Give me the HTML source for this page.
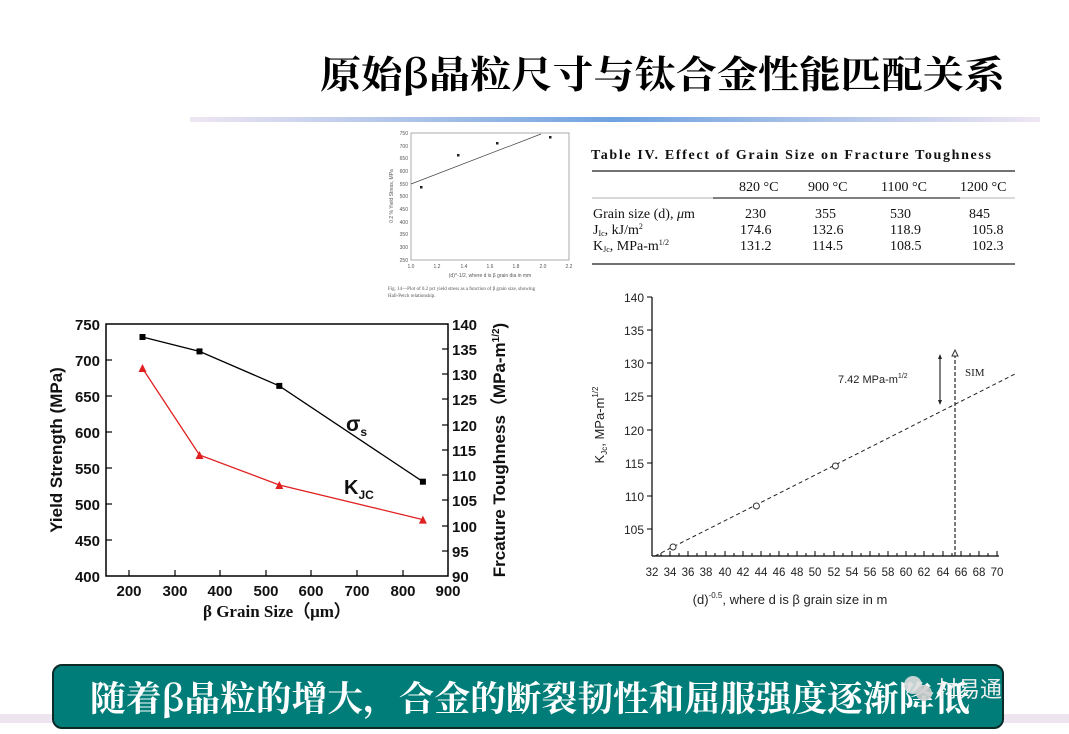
<!DOCTYPE html>
<html><head><meta charset="utf-8"><style>
body{margin:0;background:#fff;width:1069px;height:734px;overflow:hidden;position:relative;font-family:"Liberation Sans",sans-serif}
</style></head><body>
<svg width="1069" height="734" viewBox="0 0 1069 734" style="position:absolute;left:0;top:0">
<defs>
<linearGradient id="g1" x1="0" x2="1"><stop offset="0" stop-color="#efe6f2"/><stop offset="0.5" stop-color="#6fa2e0"/><stop offset="1" stop-color="#efe6f2"/></linearGradient>
</defs>
<text x="320" y="88" font-family="'Noto Serif CJK SC',serif" font-size="38" font-weight="bold" textLength="685" lengthAdjust="spacingAndGlyphs" fill="#000">原始β晶粒尺寸与钛合金性能匹配关系</text>
<rect x="190" y="117" width="850" height="5" fill="url(#g1)"/>

<!-- small figure -->
<g font-size="5" fill="#555" stroke="none">
<rect x="411" y="133" width="158" height="127" fill="none" stroke="#888" stroke-width="0.7"/>
<text x="408" y="135" text-anchor="end">750</text><text x="408" y="148" text-anchor="end">700</text><text x="408" y="160" text-anchor="end">650</text><text x="408" y="173" text-anchor="end">600</text><text x="408" y="186" text-anchor="end">550</text><text x="408" y="198" text-anchor="end">500</text><text x="408" y="211" text-anchor="end">450</text><text x="408" y="224" text-anchor="end">400</text><text x="408" y="236" text-anchor="end">350</text><text x="408" y="249" text-anchor="end">300</text><text x="408" y="262" text-anchor="end">250</text>
<text x="411" y="268" text-anchor="middle">1.0</text><text x="437" y="268" text-anchor="middle">1.2</text><text x="464" y="268" text-anchor="middle">1.4</text><text x="490" y="268" text-anchor="middle">1.6</text><text x="516" y="268" text-anchor="middle">1.8</text><text x="543" y="268" text-anchor="middle">2.0</text><text x="569" y="268" text-anchor="middle">2.2</text>
<text x="490" y="277" text-anchor="middle">(d)^-1/2, where d is β grain dia in mm</text>
<text x="388" y="290" font-family="'Liberation Serif',serif">Fig. 14—Plot of 0.2 pct yield stress as a function of β grain size, showing</text>
<text x="388" y="297" font-family="'Liberation Serif',serif">Hall-Petch relationship.</text>
<text transform="translate(393,196) rotate(-90)" text-anchor="middle">0.2 % Yield Stress, MPa</text>
<line x1="411" y1="184" x2="541" y2="134" stroke="#444" stroke-width="0.7"/>
<rect x="420" y="186" width="2.5" height="2.5" fill="#222"/><rect x="457" y="154" width="2.5" height="2.5" fill="#222"/><rect x="496" y="142" width="2.5" height="2.5" fill="#222"/><rect x="549" y="136" width="2.5" height="2.5" fill="#222"/>
</g>

<!-- table -->
<g font-family="'Liberation Serif',serif" fill="#111">
<text x="591" y="159" font-size="14" font-weight="bold" textLength="400" lengthAdjust="spacing">Table IV.   Effect of Grain Size on Fracture Toughness</text>
<line x1="592" y1="171" x2="1015" y2="171" stroke="#444" stroke-width="1.5"/>
<text x="739" y="191" font-size="14">820 °C</text><text x="808" y="191" font-size="14">900 °C</text><text x="881" y="191" font-size="14">1100 °C</text><text x="960" y="191" font-size="14">1200 °C</text>
<line x1="713" y1="198" x2="960" y2="198" stroke="#111" stroke-width="1.2"/>
<line x1="592" y1="198" x2="1015" y2="198" stroke="#666" stroke-width="0.5"/>
<text x="593" y="218" font-size="14">Grain size (d), <tspan font-style="italic">μ</tspan>m</text>
<text x="593" y="234" font-size="14">J<tspan font-size="8" dy="2">Ic</tspan><tspan dy="-2">, kJ/m</tspan><tspan font-size="8" dy="-5">2</tspan></text>
<text x="593" y="250" font-size="14">K<tspan font-size="8" dy="2">Jc</tspan><tspan dy="-2">, MPa-m</tspan><tspan font-size="8" dy="-5">1/2</tspan></text>
<g font-size="14"><text x="745" y="218">230</text><text x="815" y="218">355</text><text x="890" y="218">530</text><text x="969" y="218">845</text>
<text x="740" y="234">174.6</text><text x="812" y="234">132.6</text><text x="890" y="234">118.9</text><text x="972" y="234">105.8</text>
<text x="740" y="250">131.2</text><text x="812" y="250">114.5</text><text x="890" y="250">108.5</text><text x="972" y="250">102.3</text></g>
<line x1="592" y1="264" x2="1015" y2="264" stroke="#444" stroke-width="1.5"/>
</g>

<!-- left chart -->
<g font-weight="bold" font-size="15" fill="#111">
<rect x="106" y="324" width="342" height="252" fill="none" stroke="#000" stroke-width="1.5"/>
<g stroke="#000" stroke-width="1.2">
<line x1="129" y1="576" x2="129" y2="570"/><line x1="175" y1="576" x2="175" y2="570"/><line x1="220" y1="576" x2="220" y2="570"/><line x1="266" y1="576" x2="266" y2="570"/><line x1="311" y1="576" x2="311" y2="570"/><line x1="357" y1="576" x2="357" y2="570"/><line x1="403" y1="576" x2="403" y2="570"/>
<line x1="106" y1="360" x2="112" y2="360"/><line x1="106" y1="396" x2="112" y2="396"/><line x1="106" y1="432" x2="112" y2="432"/><line x1="106" y1="468" x2="112" y2="468"/><line x1="106" y1="504" x2="112" y2="504"/><line x1="106" y1="540" x2="112" y2="540"/>
<line x1="448" y1="349" x2="442" y2="349"/><line x1="448" y1="374" x2="442" y2="374"/><line x1="448" y1="399" x2="442" y2="399"/><line x1="448" y1="425" x2="442" y2="425"/><line x1="448" y1="450" x2="442" y2="450"/><line x1="448" y1="475" x2="442" y2="475"/><line x1="448" y1="500" x2="442" y2="500"/><line x1="448" y1="526" x2="442" y2="526"/><line x1="448" y1="551" x2="442" y2="551"/>
</g>
<g text-anchor="end"><text x="100" y="330">750</text><text x="100" y="366">700</text><text x="100" y="402">650</text><text x="100" y="438">600</text><text x="100" y="474">550</text><text x="100" y="510">500</text><text x="100" y="546">450</text><text x="100" y="582">400</text></g>
<g><text x="452" y="330">140</text><text x="452" y="355">135</text><text x="452" y="380">130</text><text x="452" y="405">125</text><text x="452" y="431">120</text><text x="452" y="456">115</text><text x="452" y="481">110</text><text x="452" y="506">105</text><text x="452" y="532">100</text><text x="452" y="557">95</text><text x="452" y="582">90</text></g>
<g text-anchor="middle"><text x="129" y="596">200</text><text x="175" y="596">300</text><text x="220" y="596">400</text><text x="266" y="596">500</text><text x="311" y="596">600</text><text x="357" y="596">700</text><text x="403" y="596">800</text><text x="448" y="596">900</text></g>
<text x="277" y="617" text-anchor="middle" font-family="'Liberation Serif',serif" font-size="17">β Grain Size（μm）</text>
<text transform="translate(62,450) rotate(-90)" text-anchor="middle" font-size="17">Yield Strength (MPa)</text>
<text transform="translate(505,450) rotate(-90)" text-anchor="middle" font-size="17">Frcature Toughness（MPa-m<tspan font-size="10" dy="-6">1/2</tspan><tspan dy="6">)</tspan></text>
<polyline points="142.5,337 199.5,351.4 279.3,385.9 422.9,481.7" fill="none" stroke="#000" stroke-width="1.3"/>
<rect x="139.5" y="334" width="6" height="6" fill="#000"/><rect x="196.5" y="348.4" width="6" height="6" fill="#000"/><rect x="276.3" y="382.9" width="6" height="6" fill="#000"/><rect x="419.9" y="478.7" width="6" height="6" fill="#000"/>
<polyline points="142.5,368.4 199.5,455 279.3,485 422.9,519.6" fill="none" stroke="#e02020" stroke-width="1.3"/>
<g fill="#e02020"><polygon points="142.5,364 146.5,372 138.5,372"/><polygon points="199.5,451 203.5,459 195.5,459"/><polygon points="279.3,481 283.3,489 275.3,489"/><polygon points="422.9,515.6 426.9,523.6 418.9,523.6"/></g>
<text x="346" y="431" font-size="21">σ<tspan font-size="12" dy="5">s</tspan></text>
<text x="344" y="494" font-size="20">K<tspan font-size="12" dy="5">JC</tspan></text>
</g>

<!-- right chart -->
<g font-size="12" fill="#222">
<line x1="652" y1="297" x2="652" y2="556" stroke="#000" stroke-width="1.2"/>
<line x1="652" y1="556" x2="999" y2="556" stroke="#000" stroke-width="1.2"/>
<g stroke="#000" stroke-width="1">
<line x1="652" y1="297" x2="647" y2="297"/><line x1="652" y1="330" x2="647" y2="330"/><line x1="652" y1="363" x2="647" y2="363"/><line x1="652" y1="396" x2="647" y2="396"/><line x1="652" y1="430" x2="647" y2="430"/><line x1="652" y1="463" x2="647" y2="463"/><line x1="652" y1="496" x2="647" y2="496"/><line x1="652" y1="529" x2="647" y2="529"/>
</g>
<g text-anchor="end"><text x="644" y="302">140</text><text x="644" y="335">135</text><text x="644" y="368">130</text><text x="644" y="401">125</text><text x="644" y="435">120</text><text x="644" y="468">115</text><text x="644" y="501">110</text><text x="644" y="534">105</text></g>
<g text-anchor="middle" font-size="11.5"><text x="652" y="576">32</text><text x="670" y="576">34</text><text x="688" y="576">36</text><text x="706" y="576">38</text><text x="725" y="576">40</text><text x="743" y="576">42</text><text x="761" y="576">44</text><text x="779" y="576">46</text><text x="797" y="576">48</text><text x="815" y="576">50</text><text x="834" y="576">52</text><text x="852" y="576">54</text><text x="870" y="576">56</text><text x="888" y="576">58</text><text x="906" y="576">60</text><text x="924" y="576">62</text><text x="943" y="576">64</text><text x="961" y="576">66</text><text x="979" y="576">68</text><text x="997" y="576">70</text></g>
<g stroke="#000" stroke-width="1"><path d="M652 556v-5M661 556v-3M670 556v-5M679 556v-3M688 556v-5M697 556v-3M706 556v-5M715 556v-3M725 556v-5M734 556v-3M743 556v-5M752 556v-3M761 556v-5M770 556v-3M779 556v-5M788 556v-3M797 556v-5M806 556v-3M815 556v-5M824 556v-3M834 556v-5M843 556v-3M852 556v-5M861 556v-3M870 556v-5M879 556v-3M888 556v-5M897 556v-3M906 556v-5M915 556v-3M924 556v-5M933 556v-3M943 556v-5M952 556v-3M961 556v-5M970 556v-3M979 556v-5M988 556v-3M997 556v-5"/></g>
<text x="790" y="604" text-anchor="middle" font-size="13">(d)<tspan font-size="8" dy="-6">-0.5</tspan><tspan dy="6">, where d is β grain size in m</tspan></text>
<text transform="translate(604,425) rotate(-90)" text-anchor="middle" font-size="13">K<tspan font-size="8" dy="3">Jc</tspan><tspan dy="-3">, MPa-m</tspan><tspan font-size="8" dy="-6">1/2</tspan></text>
<line x1="655" y1="556" x2="1015" y2="374" stroke="#222" stroke-width="1" stroke-dasharray="4,3"/>
<line x1="955" y1="354" x2="955" y2="556" stroke="#222" stroke-width="1.2" stroke-dasharray="4,2"/>
<circle cx="673" cy="547" r="3" fill="#fff" stroke="#333"/><circle cx="756.4" cy="506" r="3" fill="#fff" stroke="#333"/><circle cx="835.4" cy="466" r="3" fill="#fff" stroke="#333"/>
<polygon points="955,350 958,356 952,356" fill="#fff" stroke="#333"/>
<line x1="940" y1="357" x2="940" y2="402" stroke="#000"/><polygon points="940,354 938,359 942,359"/><polygon points="940,405 938,400 942,400"/>
<text x="838" y="383" font-size="11">7.42 MPa-m<tspan font-size="7" dy="-5">1/2</tspan></text>
<text x="965" y="376" font-size="11" font-family="'Liberation Serif',serif">SIM</text>
</g>

<!-- banner -->
<rect x="0" y="714" width="1069" height="9" fill="#eee4f0"/>
<rect x="53" y="665" width="950" height="63" rx="9" fill="#007d78" stroke="#0b2a28" stroke-width="2"/>
<text x="90" y="711" font-family="'Noto Serif CJK SC',serif" font-size="35" font-weight="bold" textLength="880" lengthAdjust="spacingAndGlyphs" fill="#fff">随着β晶粒的增大，合金的断裂韧性和屈服强度逐渐降低</text>
<circle cx="913" cy="685" r="9" fill="#ddd" opacity="0.9"/><circle cx="924" cy="693" r="8" fill="#ccc" opacity="0.9"/>
<text x="936" y="697" font-family="'Noto Sans CJK SC',sans-serif" font-size="22" fill="#eee">材易通</text>
</svg>
</body></html>
